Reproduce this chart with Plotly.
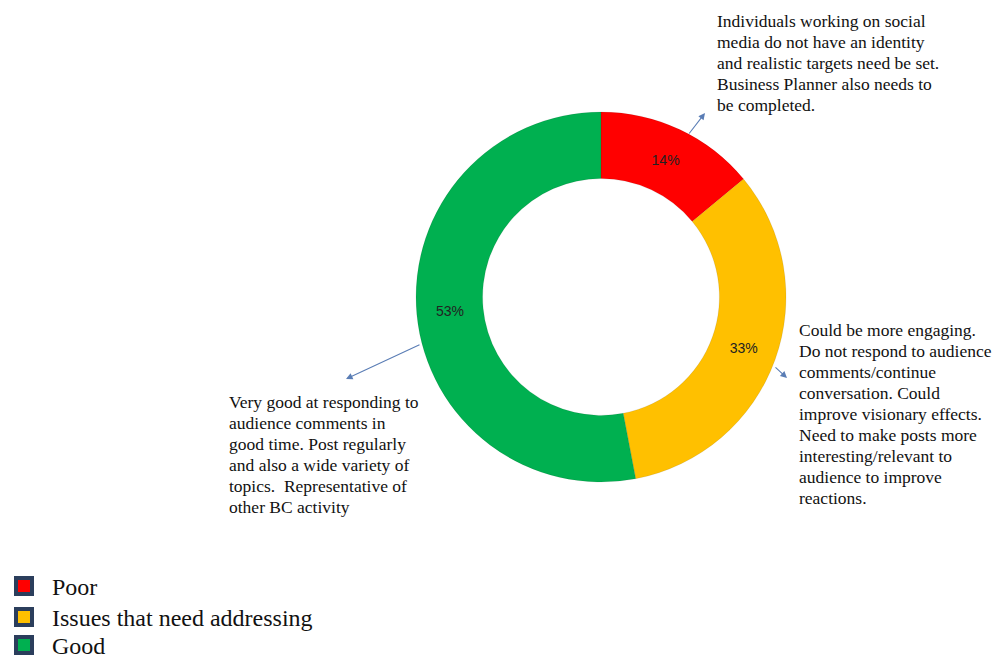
import plotly.graph_objects as go

# Assessment categories and their shares
categories = ["Poor", "Issues that need addressing", "Good"]
shares = [14, 33, 53]
colors = ["#FF0000", "#FFC000", "#00B050"]

# Commentary for each category, one entry per printed line
note_poor = [
    "Individuals working on social",
    "media do not have an identity",
    "and realistic targets need be set.",
    "Business Planner also needs to",
    "be completed.",
]
note_issues = [
    "Could be more engaging.",
    "Do not respond to audience",
    "comments/continue",
    "conversation. Could",
    "improve visionary effects.",
    "Need to make posts more",
    "interesting/relevant to",
    "audience to improve",
    "reactions.",
]
note_good = [
    "Very good at responding to",
    "audience comments in",
    "good time. Post regularly",
    "and also a wide variety of",
    "topics.  Representative of",
    "other BC activity",
]

W, H = 994, 658

fig = go.Figure()

fig.add_trace(go.Pie(
    labels=categories,
    values=shares,
    sort=False,
    direction="clockwise",
    rotation=0,
    hole=0.64,
    marker=dict(colors=colors, line=dict(color="rgba(0,0,0,0.15)", width=0.6)),
    texttemplate="%{percent:.0%}",
    textposition="inside",
    insidetextorientation="horizontal",
    textfont=dict(family="Liberation Sans, Arial, sans-serif", size=14, color="#222222"),
    domain=dict(x=[416 / W, 786 / W], y=[1 - 482 / H, 1 - 112 / H]),
    showlegend=False,
    hoverinfo="label+percent",
))

# Legend entries drawn as square markers with a dark frame,
# each in its own legend box so the rows can be spaced freely
legend_ids = ["legend", "legend2", "legend3"]
for name, col, lid in zip(categories, colors, legend_ids):
    fig.add_trace(go.Scatter(
        x=[None], y=[None], mode="markers", name=name, legend=lid,
        marker=dict(symbol="square", size=16, color=col,
                    line=dict(color="#2B3E5C", width=4)),
    ))

legend_font = dict(family="'Liberation Serif', 'Times New Roman', serif", size=24, color="#111111")
legend_tops = [564, 595, 623]
legend_layout = {}
for lid, top in zip(legend_ids, legend_tops):
    legend_layout[lid] = dict(x=-4 / W, y=1 - top / H, xanchor="left", yanchor="top",
                              font=legend_font, itemwidth=46,
                              bgcolor="rgba(0,0,0,0)")

serif = dict(family="'Liberation Serif', 'Times New Roman', serif", size=17.5, color="#111111")
arrow_col = "#5A7DB5"
line_step = 21


def add_note(lines, left, first_line_y):
    for i, line in enumerate(lines):
        fig.add_annotation(
            x=left / W, y=1 - (first_line_y + i * line_step) / H,
            xref="paper", yref="paper", xanchor="left", yanchor="middle",
            align="left", showarrow=False, text=line, font=serif, borderpad=0,
        )


add_note(note_poor, 716, 21)
add_note(note_issues, 798, 330)
add_note(note_good, 228, 402)

# Pointer arrows from the ring to each note
arrows = [((705, 113), (688, 135)), ((787, 378), (774, 366)), ((346, 379), (421, 344))]
for (tx, ty), (sx, sy) in arrows:
    fig.add_annotation(x=tx / W, y=1 - ty / H, xref="paper", yref="paper",
                       ax=sx - tx, ay=sy - ty, text="", showarrow=True,
                       arrowhead=2, arrowsize=1.2, arrowwidth=1.1,
                       arrowcolor=arrow_col)

fig.update_layout(
    width=W, height=H,
    margin=dict(l=0, r=0, t=0, b=0, autoexpand=False),
    paper_bgcolor="white", plot_bgcolor="white",
    xaxis=dict(visible=False), yaxis=dict(visible=False),
    showlegend=True,
    **legend_layout,
)

fig.write_html("out.html")
